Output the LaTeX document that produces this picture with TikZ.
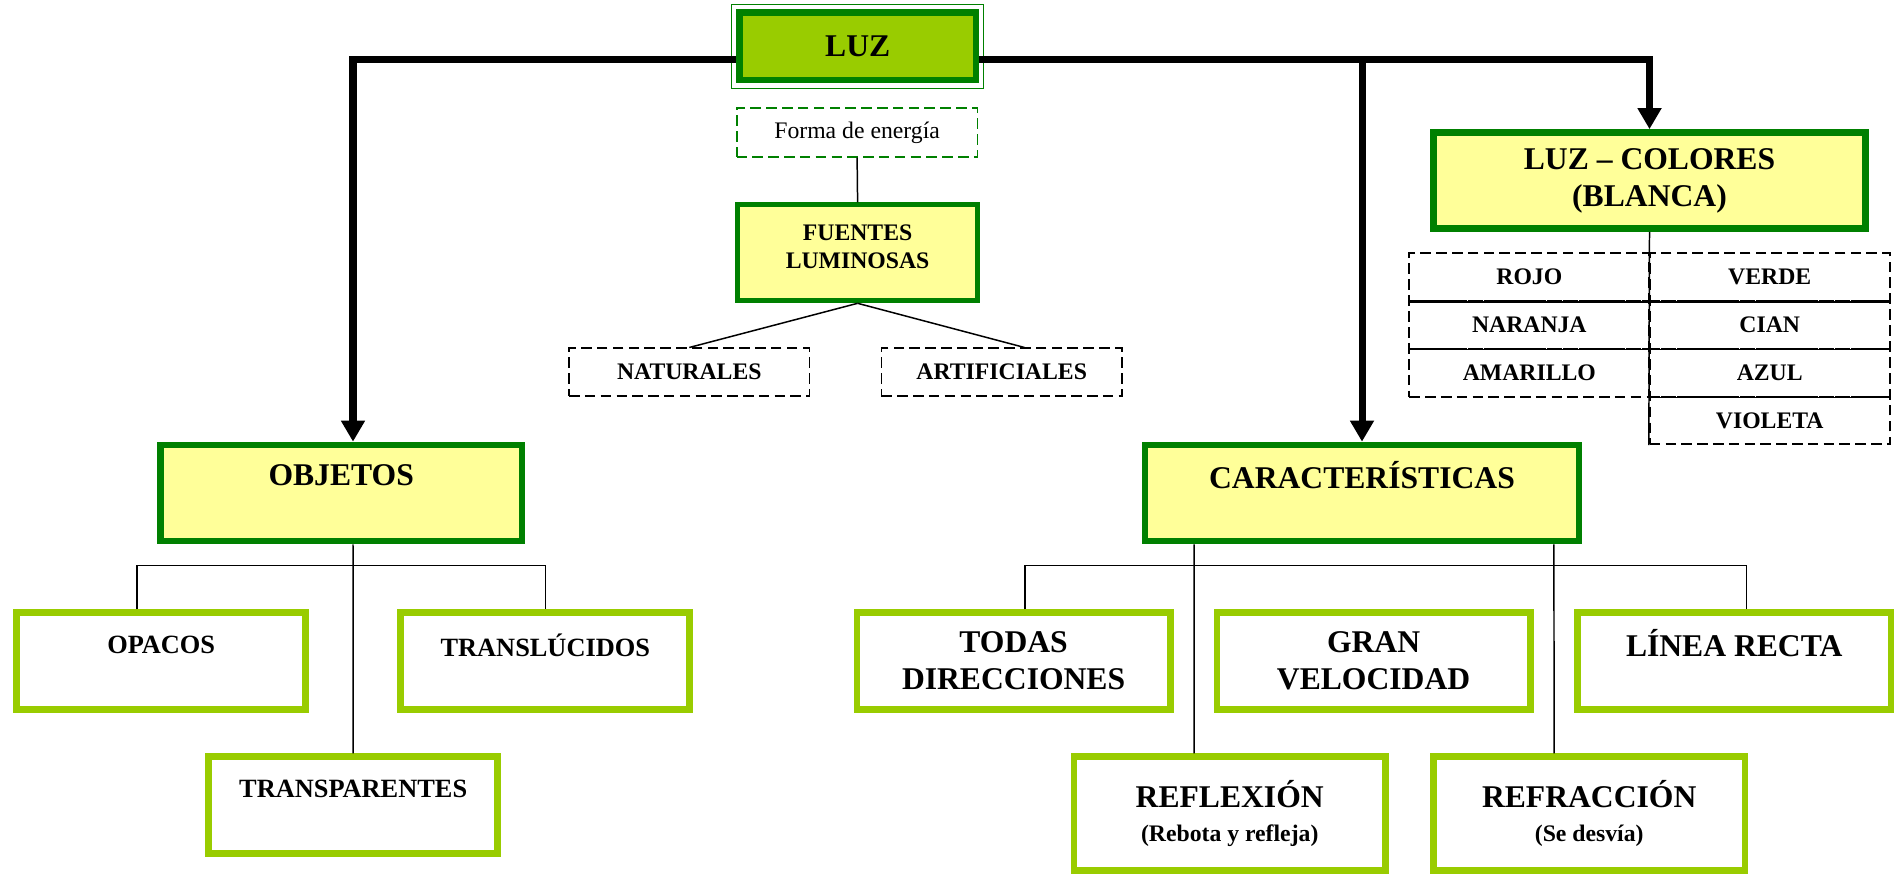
\documentclass[tikz,border=0pt]{standalone}
\usepackage{fontspec}
\setmainfont{Liberation Serif}
\usetikzlibrary{arrows.meta}
\definecolor{luzgreen}{HTML}{99CC00}
\definecolor{luzdark}{HTML}{008000}
\definecolor{luzyellow}{HTML}{FFFF99}
\newcommand{\luzbig}{\fontsize{18}{21}\selectfont\bfseries}
\newcommand{\luzmid}{\fontsize{15}{18}\selectfont\bfseries}
\newcommand{\luzsmall}{\fontsize{13.5}{16}\selectfont}
\tikzset{
  topbox/.style={draw=luzdark, line width=3.8pt, fill=luzyellow, align=center, font=\luzbig, minimum height=1.92cm},
  leafbox/.style={draw=luzgreen, line width=3.8pt, fill=white, align=center, font=\luzbig, minimum width=6.27cm, minimum height=1.93cm},
  dashbox/.style={draw, line width=1pt, dash pattern=on 6pt off 3pt, align=center, font=\luzsmall\bfseries, minimum width=4.8cm, minimum height=0.954cm},
  bigarrow/.style={line width=4pt, -{Triangle[width=13pt,length=12pt]}},
  thinline/.style={line width=0.85pt}
}
\begin{document}
\begin{tikzpicture}[x=0.02cm,y=-0.02cm]
\useasboundingbox (0,0) rectangle (1903,877);
\node[draw=luzdark, line width=0.6pt, minimum width=5.03cm, minimum height=1.67cm] (luzframe) at (857.5,46.7) {};
\node[topbox, fill=luzgreen, minimum width=4.73cm, minimum height=1.35cm] (luz) at (857.7,46.3) {LUZ};
\node[dashbox, draw=luzdark, font=\luzsmall, minimum width=4.82cm, minimum height=0.97cm] (forma) at (857.1,132.5) {Forma de energía};
\node[topbox, line width=2.85pt, font=\luzsmall\bfseries, minimum width=4.81cm] (fuentes) at (857.6,252.8) {FUENTES\\LUMINOSAS\\[-9pt]~};
\node[dashbox, minimum width=4.81cm] (naturales) at (689.3,372.2) {NATURALES};
\node[dashbox, minimum width=4.81cm] (artificiales) at (1001.7,372.2) {ARTIFICIALES};
\node[topbox, line width=4.1pt, minimum width=8.63cm, minimum height=1.91cm] (luzcol) at (1649.5,180.5) {LUZ – COLORES\\(BLANCA)};
\node[dashbox] (rojo) at (1529.3,277.2) {ROJO};
\node[dashbox] (naranja) at (1529.3,325) {NARANJA};
\node[dashbox] (amarillo) at (1529.3,372.9) {AMARILLO};
\node[dashbox] (verde) at (1769.7,277.2) {VERDE};
\node[dashbox] (cian) at (1769.7,325) {CIAN};
\node[dashbox] (azul) at (1769.7,372.9) {AZUL};
\node[dashbox] (violeta) at (1769.7,420.5) {VIOLETA};
\node[topbox, minimum width=7.23cm] (objetos) at (341.2,493) {OBJETOS\\~};
\node[topbox, minimum width=8.68cm] (caract) at (1362,493) {CARACTERÍSTICAS\\~};
\node[leafbox, font=\luzmid, minimum width=5.78cm] (opacos) at (161.2,661) {OPACOS\\~};
\node[leafbox, font=\luzmid, minimum width=5.78cm] (transluc) at (545.3,661) {TRANSLÚCIDOS\\~};
\node[leafbox, font=\luzmid, minimum width=5.78cm] (transp) at (353.2,805) {TRANSPARENTES\\~};
\node[leafbox] (todas) at (1013.6,661) {TODAS\\DIRECCIONES};
\node[leafbox] (gran) at (1373.6,661) {GRAN\\VELOCIDAD};
\node[leafbox] (linea) at (1734.2,661) {LÍNEA RECTA\\~};
\node[leafbox, minimum width=6.23cm, minimum height=2.28cm] (reflex) at (1229.7,813.6) {REFLEXIÓN\\[-2pt]{\luzsmall\bfseries (Rebota y refleja)}};
\node[leafbox, minimum width=6.23cm, minimum height=2.28cm] (refrac) at (1589.2,813.6) {REFRACCIÓN\\[-2pt]{\luzsmall\bfseries (Se desvía)}};
\coordinate (luzL) at ([yshift=-0.27cm]luz.west);
\coordinate (luzR) at ([yshift=-0.27cm]luz.east);
\draw[bigarrow] (luzL) -| ([xshift=0.236cm]objetos.north);
\draw[bigarrow] (luzR) -| (luzcol.north);
\draw[bigarrow] (caract.north |- luzR) -- (caract.north);
\draw[thinline] (forma.south) -- (fuentes.north);
\draw[thinline] (fuentes.south) -- (naturales.north);
\draw[thinline] (fuentes.south) -- ([xshift=0.456cm]artificiales.north);
\draw[thinline] (luzcol.south) -- (violeta.south west);
\draw[thinline] (rojo.south west) -- (verde.south east);
\draw[thinline] (naranja.south west) -- (cian.south east);
\draw[thinline] (azul.south west) -- (azul.south east);
\draw[thinline] ([xshift=-0.48cm]opacos.north) -- ++(0,-44) -| (transluc.north);
\draw[thinline] ([xshift=0.236cm]objetos.south) -- (transp.north);
\draw[thinline] ([xshift=0.228cm]todas.north) -- ++(0,-44) -| ([xshift=0.244cm]linea.north);
\draw[thinline] ([xshift=-3.36cm]caract.south) -- ([xshift=-0.714cm]reflex.north);
\draw[thinline] ([xshift=3.84cm]caract.south) -- ([xshift=-0.704cm]refrac.north);
\end{tikzpicture}
\end{document}
